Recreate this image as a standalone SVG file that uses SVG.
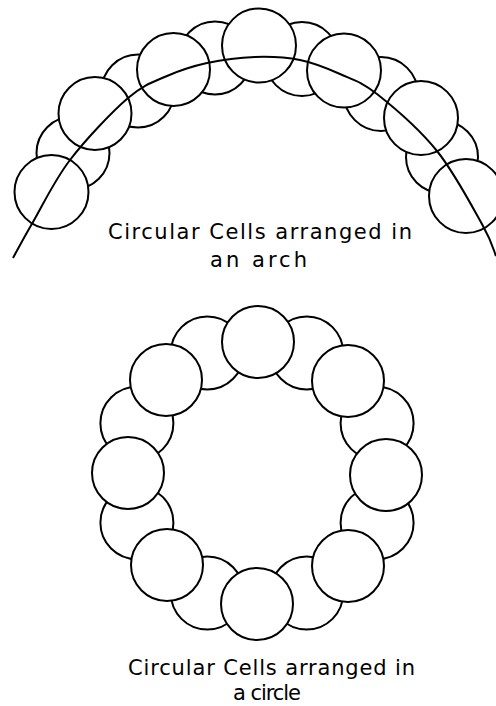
<svg xmlns="http://www.w3.org/2000/svg" width="496" height="706" viewBox="0 0 496 706">
<style>
.cell{fill:#fff;stroke:#000;stroke-width:2}
.line{fill:none;stroke:#000;stroke-width:2}
.lbl{font-family:"DejaVu Sans","Liberation Sans",sans-serif;font-size:21px;fill:#000}
</style>
<rect width="496" height="706" fill="#fff"/>
<g id="arch">
  <g id="arch-gaps">
    <g id="arch-gap-1"><circle class="cell" cx="73" cy="153" r="36.5"/></g>
    <g id="arch-gap-2"><circle class="cell" cx="138" cy="91" r="36.5"/></g>
    <g id="arch-gap-3"><circle class="cell" cx="215" cy="58" r="36.5"/></g>
    <g id="arch-gap-4"><circle class="cell" cx="302" cy="59" r="37"/></g>
    <g id="arch-gap-5"><circle class="cell" cx="381" cy="94" r="37"/></g>
    <g id="arch-gap-6"><circle class="cell" cx="442" cy="157" r="36"/></g>
  </g>
  <g id="arch-cells">
    <g id="arch-cell-1"><circle class="cell" cx="51.5" cy="192" r="37"/></g>
    <g id="arch-cell-2"><circle class="cell" cx="95" cy="113.5" r="36.5"/></g>
    <g id="arch-cell-3"><circle class="cell" cx="173.5" cy="69.5" r="36.5"/></g>
    <g id="arch-cell-4"><circle class="cell" cx="259" cy="45.5" r="37"/></g>
    <g id="arch-cell-5"><circle class="cell" cx="344" cy="70.5" r="37"/></g>
    <g id="arch-cell-6"><circle class="cell" cx="421" cy="118" r="37"/></g>
    <g id="arch-cell-7"><circle class="cell" cx="466" cy="196" r="37"/></g>
  </g>
  <g id="arch-line">
    <path class="line" d="M13,258 C16.3,252 23.5,238.3 33,222 C42.5,205.7 54.2,180.7 70,160 C85.8,139.3 111.8,112 128,98 C144.2,84 153.8,81.8 167,76 C180.2,70.2 192.3,66.2 207,63 C221.7,59.8 239.5,57.5 255,57 C270.5,56.5 285.8,57.2 300,60 C314.2,62.8 327.2,68.3 340,74 C352.8,79.7 360.8,81.2 377,94 C393.2,106.8 419.3,129 437,151 C454.7,173 473.2,208.5 483,226 C492.8,243.5 493.8,251 496,256"/>
  </g>
  <g id="arch-label">
    <text class="lbl" x="108" y="239" textLength="304" lengthAdjust="spacing">Circular Cells arranged in</text>
    <text class="lbl" x="210" y="267" textLength="97" lengthAdjust="spacing">an arch</text>
  </g>
</g>
<g id="ring">
  <g id="ring-gaps">
    <g id="ring-gap-1"><circle class="cell" cx="377.1" cy="423.3" r="36.5"/></g>
    <g id="ring-gap-2"><circle class="cell" cx="306.7" cy="352.9" r="36.5"/></g>
    <g id="ring-gap-3"><circle class="cell" cx="207.3" cy="352.9" r="36.5"/></g>
    <g id="ring-gap-4"><circle class="cell" cx="136.9" cy="423.3" r="36.5"/></g>
    <g id="ring-gap-5"><circle class="cell" cx="136.9" cy="522.7" r="36.5"/></g>
    <g id="ring-gap-6"><circle class="cell" cx="207.3" cy="593.1" r="36.5"/></g>
    <g id="ring-gap-7"><circle class="cell" cx="306.7" cy="593.1" r="36.5"/></g>
    <g id="ring-gap-8"><circle class="cell" cx="377.1" cy="522.7" r="36.5"/></g>
  </g>
  <g id="ring-cells">
    <g id="ring-cell-1"><circle class="cell" cx="258" cy="342" r="36"/></g>
    <g id="ring-cell-2"><circle class="cell" cx="348" cy="381" r="36"/></g>
    <g id="ring-cell-3"><circle class="cell" cx="386" cy="475" r="36"/></g>
    <g id="ring-cell-4"><circle class="cell" cx="348" cy="566" r="36"/></g>
    <g id="ring-cell-5"><circle class="cell" cx="257" cy="604" r="36"/></g>
    <g id="ring-cell-6"><circle class="cell" cx="167" cy="565" r="36"/></g>
    <g id="ring-cell-7"><circle class="cell" cx="128" cy="473" r="36"/></g>
    <g id="ring-cell-8"><circle class="cell" cx="166" cy="380" r="36"/></g>
  </g>
  <g id="ring-label">
    <text class="lbl" x="128" y="675" textLength="287" lengthAdjust="spacing">Circular Cells arranged in</text>
    <text class="lbl" x="233" y="700" textLength="68" lengthAdjust="spacing">a circle</text>
  </g>
</g>
</svg>
